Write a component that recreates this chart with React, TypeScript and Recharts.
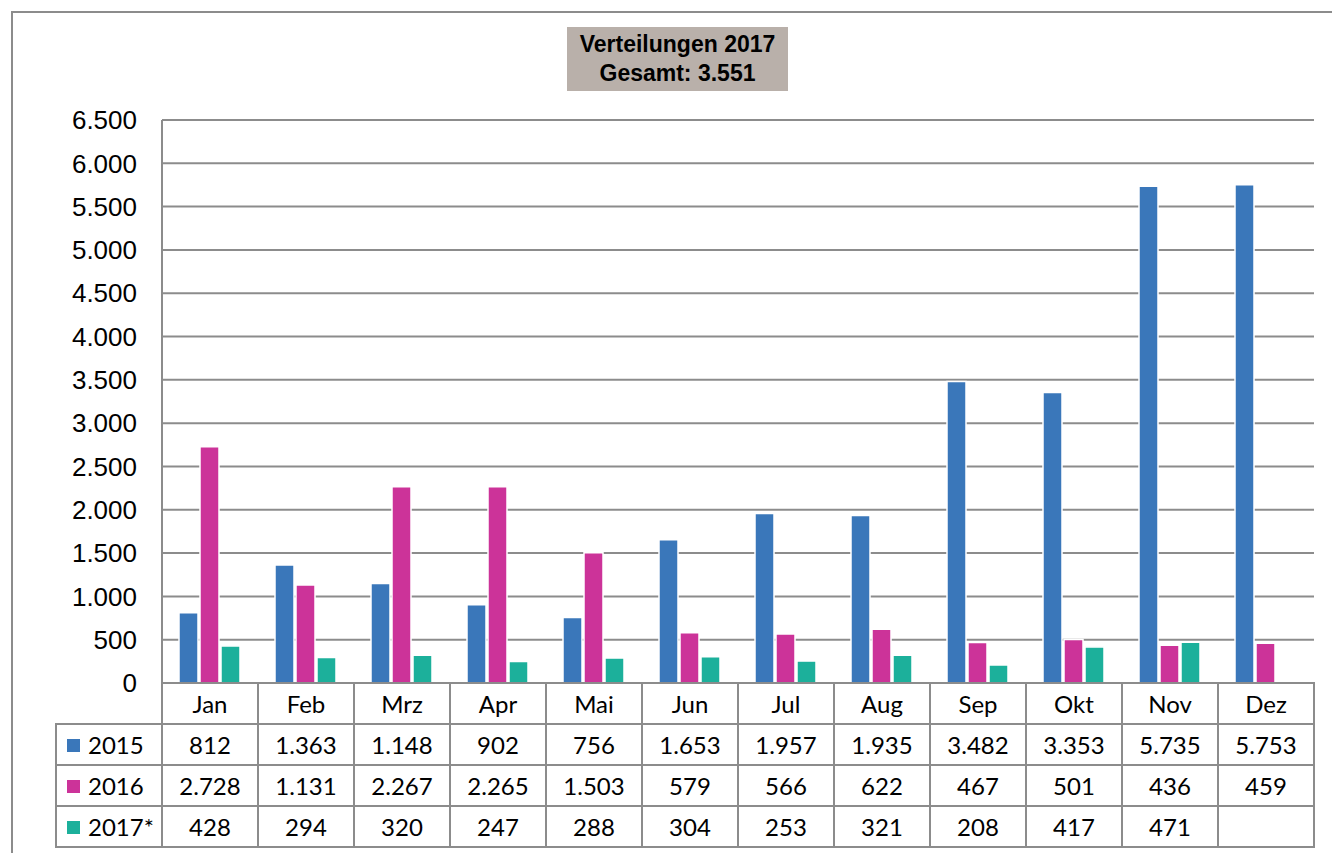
import React from 'react';
import { BarChart, Bar, XAxis, YAxis, CartesianGrid } from 'recharts';

const months = ['Jan', 'Feb', 'Mrz', 'Apr', 'Mai', 'Jun', 'Jul', 'Aug', 'Sep', 'Okt', 'Nov', 'Dez'];
const values2015 = [812, 1363, 1148, 902, 756, 1653, 1957, 1935, 3482, 3353, 5735, 5753];
const values2016 = [2728, 1131, 2267, 2265, 1503, 579, 566, 622, 467, 501, 436, 459];
const values2017: (number | null)[] = [428, 294, 320, 247, 288, 304, 253, 321, 208, 417, 471, null];
const yTicks = [0, 500, 1000, 1500, 2000, 2500, 3000, 3500, 4000, 4500, 5000, 5500, 6000, 6500];

const seriesList = [
  { key: 'y2015', name: '2015', color: '#3a77ba', values: values2015 },
  { key: 'y2016', name: '2016', color: '#cc3399', values: values2016 },
  { key: 'y2017', name: '2017*', color: '#1cb09b', values: values2017 },
];

const data = months.map((m, i) => ({
  month: m,
  y2015: values2015[i],
  y2016: values2016[i],
  y2017: values2017[i],
}));

const fmt = (n: number | null) =>
  n == null ? '' : String(n).replace(/\B(?=(\d{3})+(?!\d))/g, '.');

const GRID = '#8c8c8c';

const cell: React.CSSProperties = {
  border: `2px solid ${GRID}`,
  textAlign: 'center',
  padding: 0,
  overflow: 'hidden',
  whiteSpace: 'nowrap',
};

export default function App() {
  return (
    <div style={{ position: 'absolute', left: 0, top: 0, width: 1332, height: 853, overflow: 'hidden', background: '#fff' }}>
      {/* outer frame */}
      <div
        style={{
          position: 'absolute',
          left: 11,
          top: 11,
          width: 1400,
          height: 900,
          borderTop: `2px solid ${GRID}`,
          borderLeft: `2px solid ${GRID}`,
        }}
      />

      {/* title box */}
      <div
        style={{
          position: 'absolute',
          left: 567,
          top: 27,
          width: 221,
          height: 64,
          background: '#b9b0aa',
          fontFamily: '"Liberation Sans", Arial, sans-serif',
          fontWeight: 'bold',
          fontSize: 23,
          lineHeight: '29px',
          textAlign: 'center',
          paddingTop: 3,
          boxSizing: 'border-box',
          color: '#000',
        }}
      >
        Verteilungen 2017
        <br />
        Gesamt: 3.551
      </div>

      <div style={{ position: 'absolute', left: 0, top: 0 }}>
        <BarChart
          width={1332}
          height={700}
          data={data}
          margin={{ top: 120, right: 18, left: 12, bottom: 17 }}
          barCategoryGap={17}
          barGap={2}
        >
          <CartesianGrid vertical={false} stroke={GRID} strokeWidth={2} />
          <XAxis dataKey="month" hide />
          <YAxis
            width={150}
            domain={[0, 6500]}
            ticks={yTicks}
            interval={0}
            tickFormatter={(v: number) => fmt(v)}
            tickLine={false}
            tickMargin={19}
            axisLine={{ stroke: GRID, strokeWidth: 2 }}
            tick={{ fontSize: 26, fill: '#000', fontFamily: '"Liberation Sans", Arial, sans-serif' }}
          />
          {seriesList.map((s) => (
            <Bar
              key={s.key}
              dataKey={s.key}
              name={s.name}
              fill={s.color}
              stroke="#fff"
              strokeWidth={1.5}
              isAnimationActive={false}
            />
          ))}
        </BarChart>
      </div>

      {/* data table */}
      <table
        style={{
          position: 'absolute',
          left: 55,
          top: 682,
          width: 1260,
          borderCollapse: 'collapse',
          fontFamily: 'Lato, "Open Sans", sans-serif',
          fontSize: 24,
          color: '#000',
          tableLayout: 'fixed',
        }}
      >
        <colgroup>
          <col style={{ width: 106 }} />
          {months.map((m) => (
            <col key={m} style={{ width: 96 }} />
          ))}
        </colgroup>
        <tbody>
          <tr style={{ height: 41 }}>
            <td style={{ padding: 0, border: 'none' }} />
            {months.map((m) => (
              <td key={m} style={cell}>
                {m}
              </td>
            ))}
          </tr>
          {seriesList.map((s) => (
            <tr key={s.key} style={{ height: 41 }}>
              <td style={{ ...cell, textAlign: 'left', paddingLeft: 10 }}>
                <span
                  style={{
                    display: 'inline-block',
                    width: 13,
                    height: 13,
                    background: s.color,
                    marginRight: 8,
                    verticalAlign: 'middle',
                    position: 'relative',
                    top: -2,
                  }}
                />
                {s.name}
              </td>
              {s.values.map((v, i) => (
                <td key={i} style={cell}>
                  {fmt(v)}
                </td>
              ))}
            </tr>
          ))}
        </tbody>
      </table>
    </div>
  );
}
